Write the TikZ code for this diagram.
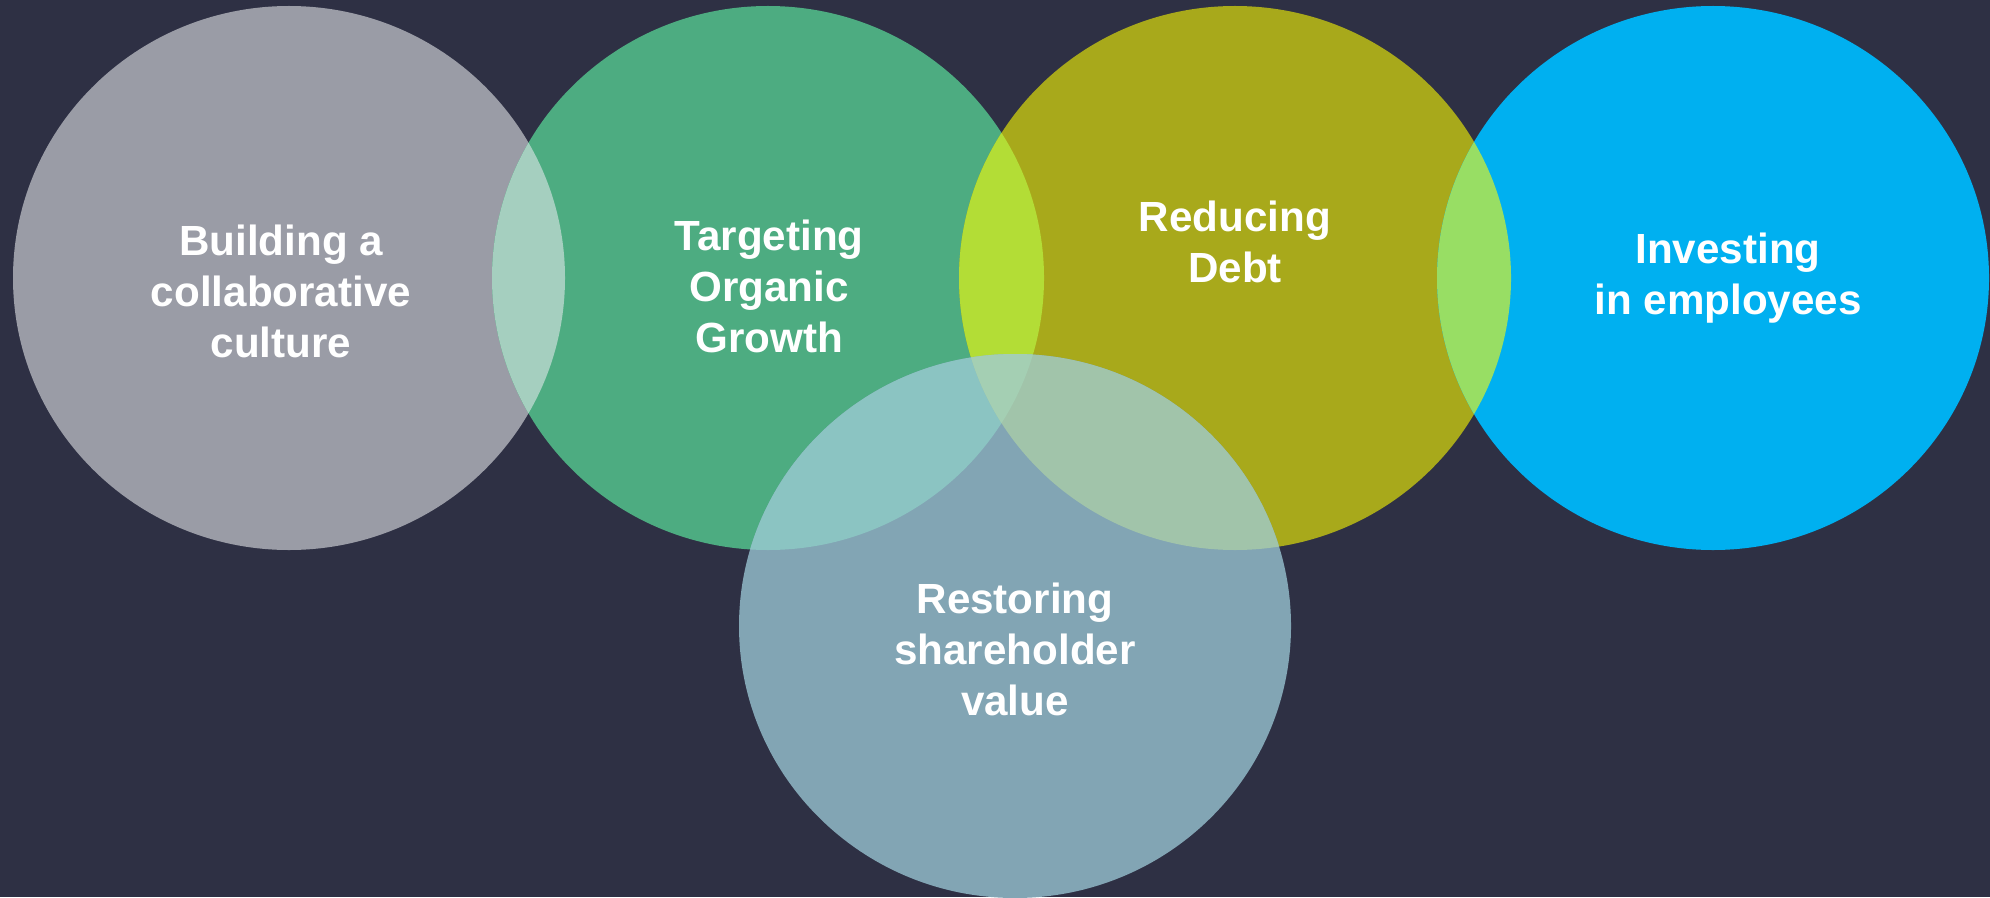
\documentclass[tikz,border=0pt]{standalone}
\usepackage{fontspec}
\setmainfont{Liberation Sans}
\definecolor{bgcol}{HTML}{2E3044}
\definecolor{graycol}{HTML}{9A9CA6}
\definecolor{greencol}{HTML}{4DAC81}
\definecolor{olivecol}{HTML}{A8A91B}
\definecolor{bluecol}{HTML}{00B0F0}
\definecolor{steelcol}{HTML}{82A5B4}
\definecolor{graygreen}{HTML}{A5CFBF}
\definecolor{greenolive}{HTML}{B3DD36}
\definecolor{oliveblue}{HTML}{98DE64}
\definecolor{greensteel}{HTML}{8BC4C2}
\definecolor{olivesteel}{HTML}{A1C4AA}
\definecolor{triplecol}{HTML}{A4CFB3}
\begin{document}
\begin{tikzpicture}[lbl/.style={text=white, align=center, font=\bfseries\fontsize{12pt}{14.5pt}\selectfont}]
        \def\rx{2.76}
        \def\ry{2.72}
        \fill [bgcol] (0, 0) rectangle (19.9, 8.97);
        \useasboundingbox (0, 0) rectangle (19.9, 8.97);
        \coordinate (cul) at (2.89, 6.19);
        \coordinate (grw) at (7.68, 6.19);
        \coordinate (dbt) at (12.35, 6.19);
        \coordinate (emp) at (17.13, 6.19);
        \coordinate (shv) at (10.15, 2.71);
        \fill [graycol] (cul) ellipse ({\rx} and {\ry});
        \fill [greencol] (grw) ellipse ({\rx} and {\ry});
        \fill [olivecol] (dbt) ellipse ({\rx} and {\ry});
        \fill [bluecol] (emp) ellipse ({\rx} and {\ry});
        \fill [steelcol] (shv) ellipse ({\rx} and {\ry});
        % overlaps
        \begin{scope}
            \clip (cul) ellipse ({\rx} and {\ry});
            \fill [graygreen] (grw) ellipse ({\rx} and {\ry});
        \end{scope}
        \begin{scope}
            \clip (grw) ellipse ({\rx} and {\ry});
            \fill [greenolive] (dbt) ellipse ({\rx} and {\ry});
            \fill [greensteel] (shv) ellipse ({\rx} and {\ry});
        \end{scope}
        \begin{scope}
            \clip (dbt) ellipse ({\rx} and {\ry});
            \fill [oliveblue] (emp) ellipse ({\rx} and {\ry});
            \fill [olivesteel] (shv) ellipse ({\rx} and {\ry});
            \clip (grw) ellipse ({\rx} and {\ry});
            \fill [triplecol] (shv) ellipse ({\rx} and {\ry});
        \end{scope}
        \node [lbl] (culture) at (2.81, 6.06) {Building a\\collaborative\\culture};
        \node [lbl] (growth) at (7.69, 6.11) {Targeting\\Organic\\Growth};
        \node [lbl] (debt) at (12.35, 6.55) {Reducing\\Debt};
        \node [lbl] (staff) at (17.28, 6.19) {Investing\\in employees};
        \node [lbl] (value) at (10.15, 2.48) {Restoring\\shareholder\\value};
    \end{tikzpicture}
\end{document}
